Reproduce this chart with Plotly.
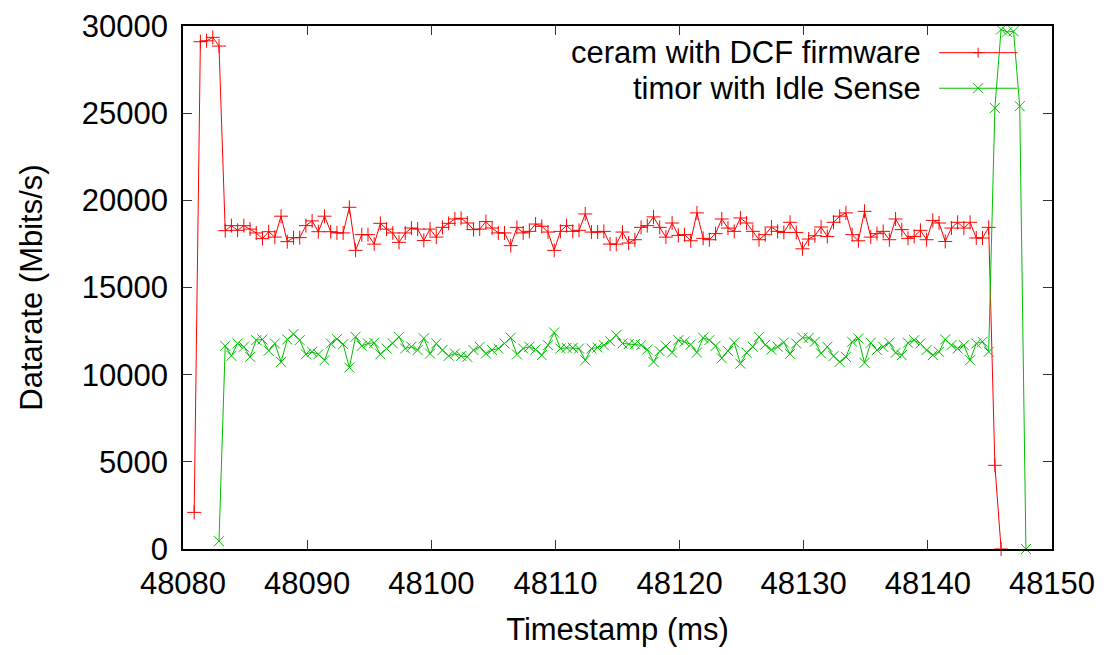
import plotly.graph_objects as go

# Timestamps (ms), one sample every 0.5 ms
red_t = [
    48080.9, 48081.4, 48081.9, 48082.4, 48082.9, 48083.4, 48083.9, 48084.4, 48084.9, 48085.4,
    48085.9, 48086.4, 48086.9, 48087.4, 48087.9, 48088.4, 48088.9, 48089.4, 48089.9, 48090.4,
    48090.9, 48091.4, 48091.9, 48092.4, 48092.9, 48093.4, 48093.9, 48094.4, 48094.9, 48095.4,
    48095.9, 48096.4, 48096.9, 48097.4, 48097.9, 48098.4, 48098.9, 48099.4, 48099.9, 48100.4,
    48100.9, 48101.4, 48101.9, 48102.4, 48102.9, 48103.4, 48103.9, 48104.4, 48104.9, 48105.4,
    48105.9, 48106.4, 48106.9, 48107.4, 48107.9, 48108.4, 48108.9, 48109.4, 48109.9, 48110.4,
    48110.9, 48111.4, 48111.9, 48112.4, 48112.9, 48113.4, 48113.9, 48114.4, 48114.9, 48115.4,
    48115.9, 48116.4, 48116.9, 48117.4, 48117.9, 48118.4, 48118.9, 48119.4, 48119.9, 48120.4,
    48120.9, 48121.4, 48121.9, 48122.4, 48122.9, 48123.4, 48123.9, 48124.4, 48124.9, 48125.4,
    48125.9, 48126.4, 48126.9, 48127.4, 48127.9, 48128.4, 48128.9, 48129.4, 48129.9, 48130.4,
    48130.9, 48131.4, 48131.9, 48132.4, 48132.9, 48133.4, 48133.9, 48134.4, 48134.9, 48135.4,
    48135.9, 48136.4, 48136.9, 48137.4, 48137.9, 48138.4, 48138.9, 48139.4, 48139.9, 48140.4,
    48140.9, 48141.4, 48141.9, 48142.4, 48142.9, 48143.4, 48143.9, 48144.4, 48144.9, 48145.4,
    48145.9,
]
red_rate = [
    2100, 29100, 29150, 29350, 28850,
    18260, 18550, 18280, 18550, 18350, 18130, 17800, 18200, 17890, 19090,
    17630, 17860, 17860, 18550, 18820, 18200, 19090, 18200, 18130, 18130,
    19600, 17130, 18030, 18030, 17490, 18680, 18350, 18130, 17590, 18130,
    18410, 18350, 17700, 18350, 17890, 18450, 18680, 18930, 18970, 18700,
    18320, 18350,
    18780, 18410, 18130, 18130, 17400, 18450, 18130, 18220, 18640, 18510,
    18180, 17130, 18220, 18550, 18220, 18280, 19220, 18180, 18180, 18220,
    17490, 17490, 18180, 17550, 17740, 18450, 18550, 19050, 18450, 17890,
    18700, 17990, 18030, 17680, 19280, 17820, 17740, 18090, 18930, 18410,
    18220, 18990, 18700,
    18220, 17740, 18030, 18470, 18220, 18160, 18740, 18160, 17220, 17780,
    17970, 18470, 17930, 18740, 19090, 19280, 18030, 17680, 19370, 17890,
    18090, 18220, 17740, 18930, 18320, 17820, 17930, 18280, 17740, 18850,
    18700, 17640, 18410, 18740, 18410, 18740, 17840, 17840, 18450,
    4800, 0,
]

green_t = [
    48082.9, 48083.4, 48083.9, 48084.4, 48084.9, 48085.4, 48085.9, 48086.4, 48086.9, 48087.4,
    48087.9, 48088.4, 48088.9, 48089.4, 48089.9, 48090.4, 48090.9, 48091.4, 48091.9, 48092.4,
    48092.9, 48093.4, 48093.9, 48094.4, 48094.9, 48095.4, 48095.9, 48096.4, 48096.9, 48097.4,
    48097.9, 48098.4, 48098.9, 48099.4, 48099.9, 48100.4, 48100.9, 48101.4, 48101.9, 48102.4,
    48102.9, 48103.4, 48103.9, 48104.4, 48104.9, 48105.4, 48105.9, 48106.4, 48106.9, 48107.4,
    48107.9, 48108.4, 48108.9, 48109.4, 48109.9, 48110.4, 48110.9, 48111.4, 48111.9, 48112.4,
    48112.9, 48113.4, 48113.9, 48114.4, 48114.9, 48115.4, 48115.9, 48116.4, 48116.9, 48117.4,
    48117.9, 48118.4, 48118.9, 48119.4, 48119.9, 48120.4, 48120.9, 48121.4, 48121.9, 48122.4,
    48122.9, 48123.4, 48123.9, 48124.4, 48124.9, 48125.4, 48125.9, 48126.4, 48126.9, 48127.4,
    48127.9, 48128.4, 48128.9, 48129.4, 48129.9, 48130.4, 48130.9, 48131.4, 48131.9, 48132.4,
    48132.9, 48133.4, 48133.9, 48134.4, 48134.9, 48135.4, 48135.9, 48136.4, 48136.9, 48137.4,
    48137.9, 48138.4, 48138.9, 48139.4, 48139.9, 48140.4, 48140.9, 48141.4, 48141.9, 48142.4,
    48142.9, 48143.4, 48143.9, 48144.4, 48144.9, 48145.4, 48145.9, 48146.4, 48146.9, 48147.4,
    48147.9,
]
green_rate = [
    450,
    11650, 11080, 11790, 11600, 11020, 11980, 12020, 11370, 11790, 10730,
    12020, 12330, 11980, 11170, 11310, 11170, 10830, 11790, 12040, 11750,
    10410, 12170, 11650, 11790, 11830, 11170, 11500, 11790, 12170, 11500,
    11600, 11410, 12080, 11210, 11790, 11410, 11080, 11210, 11080, 11020,
    11410, 11600,
    11210, 11410, 11500, 11790, 12120, 11160, 11500, 11600, 11440, 11120,
    11690, 12420, 11500, 11540, 11540, 11500, 10830, 11500, 11560, 11690,
    11920, 12270, 11790, 11750, 11750,
    11690, 11440, 10730, 11350, 11640, 11270, 11980, 11890, 11730, 11270,
    12120, 11980, 11650, 10940, 11360, 11840, 10630, 11260,
    11600, 12170, 11710, 11430, 11600, 11850, 11190, 11790, 12120, 12100,
    11890, 11220, 11600, 11060, 10730, 11020, 11890, 12080, 10680, 11830,
    11410, 11600, 11830, 11250, 11120, 11830, 11980, 11790, 11410, 11120,
    11310, 12020, 11690, 11500, 11690, 10830, 11790, 11890, 11310,
    25300, 29800, 29650, 29700, 25400, 0,
]

x_ticks = [48080, 48090, 48100, 48110, 48120, 48130, 48140, 48150]
y_ticks = [0, 5000, 10000, 15000, 20000, 25000, 30000]

series = [
    ("ceram with DCF firmware", red_t, red_rate, "#ff0000", "cross-thin"),
    ("timor with Idle Sense", green_t, green_rate, "#00c000", "x-thin"),
]

FONT = "Liberation Sans, Arial, sans-serif"
FS = 31

fig = go.Figure()
for name, t, rate, color, symbol in series:
    fig.add_trace(go.Scatter(
        x=t, y=rate, name=name, mode="lines+markers",
        line=dict(color=color, width=1),
        marker=dict(symbol=symbol, size=10, line=dict(color=color, width=1)),
        cliponaxis=False,
    ))

axis_style = dict(
    showline=True, linecolor="black", linewidth=1.5, mirror="ticks",
    ticks="inside", ticklen=9, tickcolor="#333333", tickwidth=1,
    showgrid=False, zeroline=False, tickformat="d", automargin=False,
    tickfont=dict(size=FS, color="black", family=FONT),
)
fig.update_xaxes(axis_style, range=[48080, 48150], tickvals=x_ticks,
                 ticklabelstandoff=6,
                 title=dict(text="Timestamp (ms)", standoff=22,
                            font=dict(size=FS, color="black", family=FONT)))
fig.update_yaxes(axis_style, range=[0, 30000], tickvals=y_ticks,
                 ticklabelstandoff=7,
                 title=dict(text="Datarate (Mbits/s)", standoff=30,
                            font=dict(size=FS, color="black", family=FONT)))

# gnuplot-style key: label on the left, sample on the right
key_rows = [0.949, 0.881]
shapes = []
annotations = []
for (name, _, _, color, symbol), yk in zip(series, key_rows):
    annotations.append(dict(
        text=name, xref="paper", yref="paper", x=0.852, y=yk,
        xanchor="right", yanchor="middle", showarrow=False,
        font=dict(size=FS, color="black", family=FONT),
    ))
    shapes.append(dict(type="line", xref="paper", yref="paper",
                       x0=0.870, x1=0.960, y0=yk, y1=yk,
                       line=dict(color=color, width=1)))
    if symbol == "cross-thin":
        arms = [(0, -5, 0, 5), (-5, 0, 5, 0)]
    else:
        arms = [(-5, -5, 5, 5), (-5, 5, 5, -5)]
    for ax0, ay0, ax1, ay1 in arms:
        shapes.append(dict(type="line", xref="paper", yref="paper",
                           xsizemode="pixel", ysizemode="pixel",
                           xanchor=0.915, yanchor=yk,
                           x0=ax0, x1=ax1, y0=ay0, y1=ay1,
                           line=dict(color=color, width=1)))

# the page body adds an 8px offset, so the figure is a bit smaller than the window
fig.update_layout(
    width=1088, height=639,
    margin=dict(l=175, r=44, t=18, b=98, autoexpand=False),
    paper_bgcolor="white", plot_bgcolor="white",
    showlegend=False,
    font=dict(family=FONT, color="black"),
    shapes=shapes, annotations=annotations,
)

fig.write_html("out.html")
